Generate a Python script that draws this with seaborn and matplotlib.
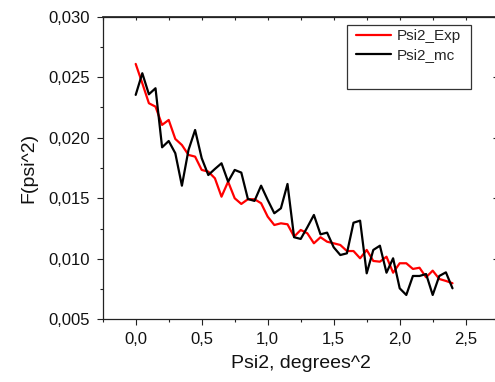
import matplotlib
matplotlib.use('Agg')
import matplotlib.pyplot as plt
import seaborn as sns
import pandas as pd
from matplotlib.ticker import MultipleLocator, FuncFormatter
from matplotlib.patches import Rectangle

psi2 = [0.00, 0.05, 0.10, 0.15, 0.20, 0.25, 0.30, 0.35, 0.40, 0.45,
        0.50, 0.55, 0.60, 0.65, 0.70, 0.75, 0.80, 0.85, 0.90, 0.95,
        1.00, 1.05, 1.10, 1.15, 1.20, 1.25, 1.30, 1.35, 1.40, 1.45,
        1.50, 1.55, 1.60, 1.65, 1.70, 1.75, 1.80, 1.85, 1.90, 1.95,
        2.00, 2.05, 2.10, 2.15, 2.20, 2.25, 2.30, 2.35, 2.40]

psi2_exp = [0.02610, 0.02450, 0.02285, 0.02257, 0.02106, 0.02147, 0.01990, 0.01940, 0.01858, 0.01844,
            0.01734, 0.01720, 0.01665, 0.01513, 0.01637, 0.01500, 0.01453, 0.01492, 0.01492, 0.01459,
            0.01348, 0.01279, 0.01293, 0.01285, 0.01183, 0.01238, 0.01211, 0.01128, 0.01178, 0.01141,
            0.01128, 0.01114, 0.01064, 0.01064, 0.01004, 0.01073, 0.00982, 0.00976, 0.01017, 0.00885,
            0.00963, 0.00963, 0.00916, 0.00926, 0.00847, 0.00902, 0.00833, 0.00817, 0.00798]

psi2_mc = [0.02354, 0.02533, 0.02359, 0.02409, 0.01921, 0.01973, 0.01872, 0.01604, 0.01899, 0.02064,
           0.01831, 0.01692, 0.01742, 0.01789, 0.01637, 0.01734, 0.01712, 0.01494, 0.01478, 0.01604,
           0.01486, 0.01376, 0.01417, 0.01618, 0.01178, 0.01164, 0.01260, 0.01362, 0.01202, 0.01216,
           0.01095, 0.01031, 0.01045, 0.01298, 0.01315, 0.00880, 0.01073, 0.01108, 0.00885, 0.01004,
           0.00756, 0.00701, 0.00858, 0.00858, 0.00874, 0.00701, 0.00858, 0.00888, 0.00756]

series_names = ['Psi2_Exp', 'Psi2_mc']
series_colors = ['#ff0000', '#000000']

x_ticks = [0.0, 0.5, 1.0, 1.5, 2.0, 2.5]
y_ticks = [0.005, 0.010, 0.015, 0.020, 0.025, 0.030]

df = pd.DataFrame({
    'x': psi2 + psi2,
    'y': psi2_exp + psi2_mc,
    'series': [series_names[0]] * len(psi2) + [series_names[1]] * len(psi2),
})

sns.set_theme(style='ticks')
plt.rcParams['font.family'] = ['Liberation Sans', 'DejaVu Sans']

W, H = 495, 382
fig = plt.figure(figsize=(W / 100, H / 100), dpi=100)
ax = fig.add_axes([102.7 / W, 62.7 / H, 396 / W, 302.6 / H])

sns.lineplot(data=df, x='x', y='y', hue='series', hue_order=series_names,
             palette=dict(zip(series_names, series_colors)), sort=False,
             estimator=None, linewidth=1.6, ax=ax, legend=True)

ax.set_xlim(-0.25, 2.75)
ax.set_ylim(0.005, 0.030)
ax.set_xticks(x_ticks)
ax.set_yticks(y_ticks)
ax.xaxis.set_minor_locator(MultipleLocator(0.25))
ax.yaxis.set_minor_locator(MultipleLocator(0.0025))
ax.xaxis.set_major_formatter(FuncFormatter(lambda v, p: f"{v:.1f}".replace('.', ',')))
ax.yaxis.set_major_formatter(FuncFormatter(lambda v, p: f"{v:.3f}".replace('.', ',')))

for s in ax.spines.values():
    s.set_visible(True)
    s.set_color('#222222')
    s.set_linewidth(0.9)

ax.tick_params(which='major', direction='out', length=4, width=0.8, color='#222222',
               labelsize=12, pad=5, labelcolor='#111111')
ax.tick_params(which='minor', direction='out', length=2.5, width=0.8, color='#222222')

top = ax.secondary_xaxis('top')
top.set_xticks(x_ticks)
top.xaxis.set_minor_locator(MultipleLocator(0.25))
top.tick_params(which='both', direction='in', length=2.5, width=0.8, labeltop=False, color='#222222')
right = ax.secondary_yaxis('right')
right.set_yticks(y_ticks)
right.tick_params(which='major', direction='in', length=4, width=0.8, labelright=False, color='#222222')

ax.set_xlabel('Psi2, degrees^2', fontsize=14, labelpad=6, color='#111111')
ax.set_ylabel('F(psi^2)', fontsize=14, labelpad=8, color='#111111')

handles, labels = ax.get_legend_handles_labels()
ax.get_legend().remove()
ax.add_patch(Rectangle((0.616, 0.761), 0.314, 0.2116, transform=ax.transAxes,
                       facecolor='white', edgecolor='#333333', linewidth=0.9, zorder=3))
leg = ax.legend(handles, labels, loc='upper left', bbox_to_anchor=(0.6396, 0.958),
                frameon=False, fontsize=11, handlelength=2.3, handletextpad=0.4,
                labelspacing=0.3, borderpad=0, borderaxespad=0)
leg.set_zorder(4)
for line in leg.get_lines():
    line.set_linewidth(1.6)

fig.savefig('out.png', dpi=100)
